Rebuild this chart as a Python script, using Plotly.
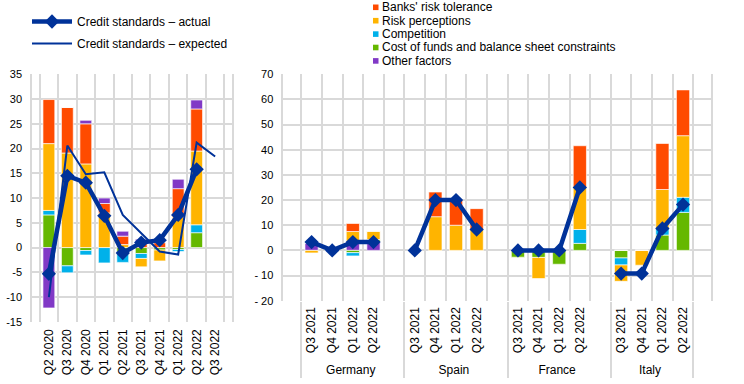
import plotly.graph_objects as go

# ---------------- data ----------------
left_quarters = ["Q2 2020", "Q3 2020", "Q4 2020", "Q1 2021", "Q2 2021",
                 "Q3 2021", "Q4 2021", "Q1 2022", "Q2 2022", "Q3 2022"]

left_cost = [6.6, -3.7, -0.6, 0, -0.9, -1.2, -0.5, -0.4, 3.0, None]
left_comp = [0.9, -1.4, -0.9, -3.1, -2.1, -1.0, 0, -0.4, 1.6, None]
left_risk_perc = [13.5, 19.1, 16.9, 7.0, 0.6, -1.7, -2.2, 6.2, 14.9, None]
left_risk_tol = [8.9, 9.2, 8.1, 1.9, 1.7, 0.8, 1.0, 5.7, 8.5, None]
left_other = [-12.2, 0, 0.7, 1.1, 1.0, 0.9, 0, 1.9, 1.8, None]
left_actual = [-5.3, 14.5, 13.1, 6.4, -1.1, 1.0, 1.5, 6.6, 15.8, None]
left_expected = [-10.0, 20.6, 14.8, 15.2, 6.6, 2.8, -0.8, -1.4, 21.2, 18.4]

countries = ["Germany", "Spain", "France", "Italy"]
country_quarters = ["Q3 2021", "Q4 2021", "Q1 2022", "Q2 2022"]

# order: Germany, Spain, France, Italy (4 quarters each)
right_risk_tol = [0, 0, 3.2, 0,
                  0, 9.8, 9.9, 8.3,
                  0, 0, 0, 16.6,
                  0, 0, 18.3, 18.2]
right_risk_perc = [-1.0, 0, 3.8, 3.3,
                   0, 13.4, 10.0, 8.3,
                   0, -8.4, 0, 16.7,
                   -6.5, -5.9, 15.5, 24.5]
right_comp = [0, 0, -1.3, 0,
              0, 0, 0, 0,
              0, 0, 0, 5.5,
              -2.8, 0, 2.6, 6.0]
right_cost = [0, 0, -0.9, 1.0,
              0, 0, 0, 0,
              -2.7, -2.8, -5.5, 2.8,
              -3.0, 0, 6.1, 15.1]
right_other = [3.0, 0, 3.7, 3.3,
               0, 0, 0, 0,
               0, 0, 0, 0,
               0, 0, 0, 0]
right_actual = [3.3, 0, 3.3, 3.3,
                0, 20.0, 20.0, 8.3,
                0, 0, 0, 25.0,
                -9.2, -9.2, 8.7, 18.2]

left_yticks = [-15, -10, -5, 0, 5, 10, 15, 20, 25, 30, 35]
left_yticktext = ["-15", "-10", "-5", "0", "5", "10", "15", "20", "25", "30", "35"]
right_yticks = [-20, -10, 0, 10, 20, 30, 40, 50, 60, 70]
right_yticktext = ["- 20", "- 10", "0", "10", "20", "30", "40", "50", "60", "70"]

factor_keys = ["tol", "perc", "comp", "cost", "other"]
factor_names = ["Banks' risk tolerance", "Risk perceptions", "Competition",
                "Cost of funds and balance sheet constraints", "Other factors"]

# ---------------- styles ----------------
colors = {"tol": "#FF4B00", "perc": "#FFB400", "comp": "#00B1EA",
          "cost": "#65B800", "other": "#8139C6"}
names = dict(zip(factor_keys, factor_names))
C_LINE = "#003299"
GRID = "#D9D9D9"
FONT = "Liberation Sans, Arial, sans-serif"

# right panel: two-level category axis (country, quarter); one empty slot after
# every country except the last, as in the original layout
GAP = " "
outer_all, inner_all = [], []
outer_real, inner_real = [], []
for ci, c in enumerate(countries):
    for q in country_quarters:
        outer_all.append(c)
        inner_all.append(q)
        outer_real.append(c)
        inner_real.append(q)
    if ci < len(countries) - 1:
        outer_all.append(c)
        inner_all.append(GAP)


def with_gaps(vals):
    out, k = [], 0
    for q in inner_all:
        if q == GAP:
            out.append(None)
        else:
            out.append(vals[k])
            k += 1
    return out


fig = go.Figure()

bar_line = dict(color="rgba(255,255,255,0.8)", width=0.8)

# right panel actual line first so that the category order includes the gap slots
fig.add_trace(go.Scatter(x=[outer_all, inner_all], y=with_gaps(right_actual),
                         mode="lines+markers", showlegend=False,
                         line=dict(color=C_LINE, width=4.5),
                         marker=dict(symbol="diamond", size=11, color=C_LINE),
                         connectgaps=False, xaxis="x2", yaxis="y2"))

# left panel bars (stack order bottom->top: cost, comp, perc, tol, other)
for key, vals in [("cost", left_cost), ("comp", left_comp), ("perc", left_risk_perc),
                  ("tol", left_risk_tol), ("other", left_other)]:
    fig.add_trace(go.Bar(x=left_quarters, y=vals, name=names[key],
                         marker=dict(color=colors[key], line=bar_line),
                         xaxis="x", yaxis="y", showlegend=False))

# right panel bars (stack order: other, cost, comp, perc, tol)
for key, vals in [("other", right_other), ("cost", right_cost), ("comp", right_comp),
                  ("perc", right_risk_perc), ("tol", right_risk_tol)]:
    fig.add_trace(go.Bar(x=[outer_real, inner_real], y=vals, name=names[key],
                         marker=dict(color=colors[key], line=bar_line),
                         xaxis="x2", yaxis="y2", showlegend=False))

# left panel lines
fig.add_trace(go.Scatter(x=left_quarters, y=left_actual, mode="lines+markers",
                         name="Credit standards – actual",
                         line=dict(color=C_LINE, width=4.5),
                         marker=dict(symbol="diamond", size=11, color=C_LINE),
                         legendgroup="a", xaxis="x", yaxis="y"))
fig.add_trace(go.Scatter(x=left_quarters, y=left_expected, mode="lines",
                         name="Credit standards – expected",
                         line=dict(color=C_LINE, width=2),
                         legendgroup="b", xaxis="x", yaxis="y"))

W, H = 744, 384
L1, R1, T1, B1 = 32, 232, 74.3, 321.8
L2, R2, T2, B2 = 283.3, 711.3, 74.3, 300.7

fig.update_layout(
    width=W, height=H,
    margin=dict(l=0, r=0, t=0, b=0, autoexpand=False),
    paper_bgcolor="white", plot_bgcolor="white",
    barmode="relative", bargap=0.36,
    font=dict(family=FONT, size=12, color="#000000"),
    xaxis=dict(domain=[L1 / W, R1 / W], type="category",
               tickson="boundaries", showgrid=True, gridcolor=GRID, gridwidth=1.5,
               ticks="", tickangle=-90, anchor="y", ticklabelstandoff=4,
               zeroline=False, automargin=False,
               tickfont=dict(family=FONT, size=12, color="#000000")),
    yaxis=dict(domain=[1 - B1 / H, 1 - T1 / H], range=[-15, 35],
               tickmode="array", tickvals=left_yticks, ticktext=left_yticktext,
               showgrid=True, gridcolor=GRID, gridwidth=1.5, zeroline=False,
               showline=True, mirror=True, linecolor=GRID, linewidth=1.5,
               ticks="", ticklabelstandoff=6, anchor="x", automargin=False,
               tickfont=dict(family=FONT, size=11, color="#000000")),
    xaxis2=dict(domain=[L2 / W, R2 / W], type="multicategory",
                tickson="boundaries", showgrid=True, gridcolor=GRID, gridwidth=1.5,
                showdividers=True, dividercolor=GRID, dividerwidth=1.5,
                ticks="", tickangle=-90, anchor="y2", ticklabelstandoff=3,
                zeroline=False, automargin=False,
                tickfont=dict(family=FONT, size=12, color="#000000")),
    yaxis2=dict(domain=[1 - B2 / H, 1 - T2 / H], range=[-20, 70],
                tickmode="array", tickvals=right_yticks, ticktext=right_yticktext,
                showgrid=True, gridcolor=GRID, gridwidth=1.5, zeroline=False,
                showline=True, mirror=True, linecolor=GRID, linewidth=1.5,
                ticks="", ticklabelstandoff=6, anchor="x2", automargin=False,
                tickfont=dict(family=FONT, size=11, color="#000000")),
    legend=dict(x=27 / W, y=1 - 7 / H, xanchor="left", yanchor="top",
                bgcolor="rgba(0,0,0,0)", tracegroupgap=3, itemwidth=40,
                font=dict(family=FONT, size=12, color="#000000")),
)

# factor legend (compact rows, as in the original)
leg_x0, leg_y0, leg_dy = 373, 7.3, 13.4
for i, key in enumerate(factor_keys):
    yc = leg_y0 + i * leg_dy
    fig.add_shape(type="rect", xref="paper", yref="paper",
                  x0=leg_x0 / W, x1=(leg_x0 + 5.5) / W,
                  y0=1 - (yc + 2.8) / H, y1=1 - (yc - 2.8) / H,
                  fillcolor=colors[key], line=dict(width=0))
    fig.add_annotation(x=(leg_x0 + 7) / W, y=1 - yc / H, xref="paper", yref="paper",
                       text=names[key], showarrow=False, xanchor="left",
                       yanchor="middle", font=dict(family=FONT, size=12, color="#000000"))

fig.write_html("out.html", config={"displayModeBar": False},
               post_script="document.body.style.margin='0px';")
